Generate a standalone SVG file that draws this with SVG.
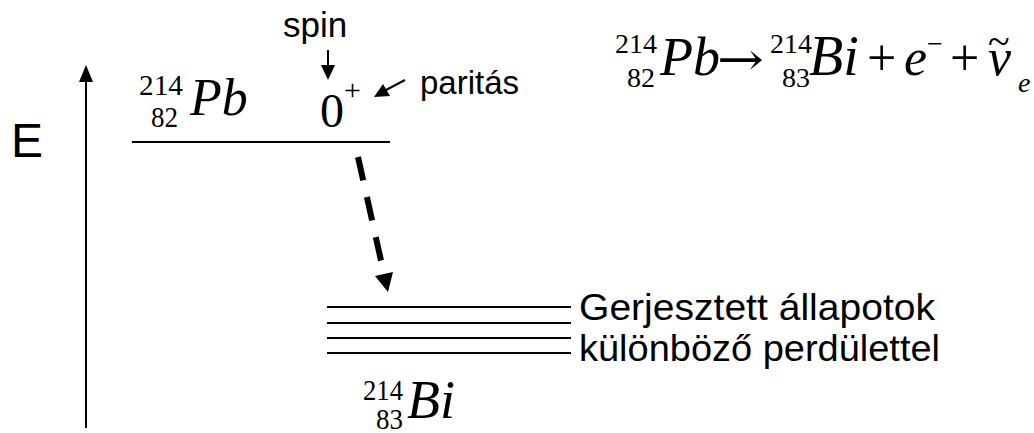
<svg xmlns="http://www.w3.org/2000/svg" width="1034" height="433" viewBox="0 0 1034 433">
<style>
.ar{font-family:"Liberation Sans",Arial,sans-serif;fill:#000}
.tm{font-family:"Liberation Serif","Times New Roman",serif;fill:#000}
.it{font-style:italic}
.ln{stroke:#000;stroke-width:2;fill:none}
</style>
<rect width="1034" height="433" fill="#fff"/>
<g id="axis">
<line class="ln" x1="86" y1="428" x2="86" y2="80"/>
<polygon points="86,65 79,82 93,82" fill="#000"/>
<text class="ar" x="11" y="157" font-size="48">E</text>
</g>
<g id="pb-level">
<line class="ln" x1="132" y1="142" x2="390" y2="142"/>
<text class="tm" x="139" y="95" font-size="29" textLength="44" lengthAdjust="spacingAndGlyphs">214</text>
<text class="tm" x="151" y="127" font-size="29" textLength="27" lengthAdjust="spacingAndGlyphs">82</text>
<text class="tm it" x="190" y="115" font-size="52">Pb</text>
<text class="tm" x="320" y="127" font-size="48">0</text>
<text class="tm" x="344" y="100" font-size="30">+</text>
</g>
<g id="spin">
<text class="ar" x="283" y="37" font-size="35">spin</text>
</g>
<g id="paritas">
<text class="ar" x="420" y="94" font-size="33">paritás</text>
</g>
<g id="bi-levels">
<line class="ln" x1="327" y1="307" x2="571" y2="307"/>
<line class="ln" x1="327" y1="323" x2="571" y2="323"/>
<line class="ln" x1="327" y1="338" x2="571" y2="338"/>
<line class="ln" x1="327" y1="353" x2="571" y2="353"/>
<text class="tm" x="363" y="400" font-size="29" textLength="40" lengthAdjust="spacingAndGlyphs">214</text>
<text class="tm" x="376" y="429" font-size="29" textLength="27" lengthAdjust="spacingAndGlyphs">83</text>
<text class="tm it" x="407" y="418" font-size="54">Bi</text>
</g>
<g id="labels">
<text class="ar" x="579" y="320" font-size="36" textLength="356" lengthAdjust="spacingAndGlyphs">Gerjesztett állapotok</text>
<text class="ar" x="579" y="361" font-size="36" textLength="361" lengthAdjust="spacingAndGlyphs">különböző perdülettel</text>
</g>
<g id="equation">
<text class="tm" x="615" y="53" font-size="28" textLength="42" lengthAdjust="spacingAndGlyphs">214</text>
<text class="tm" x="627" y="87" font-size="28" textLength="28" lengthAdjust="spacingAndGlyphs">82</text>
<text class="tm it" x="660" y="75" font-size="54">Pb</text>
<text x="717" y="75" font-size="46" font-family="DejaVu Serif, serif" textLength="47" lengthAdjust="spacingAndGlyphs">→</text>
<text class="tm" x="770" y="53" font-size="28" textLength="42" lengthAdjust="spacingAndGlyphs">214</text>
<text class="tm" x="782" y="87" font-size="28" textLength="28" lengthAdjust="spacingAndGlyphs">83</text>
<text class="tm it" x="809" y="75" font-size="56">Bi</text>
<text class="tm" x="867" y="75" font-size="52">+</text>
<text class="tm it" x="904" y="75" font-size="52">e</text>
<text class="tm" x="927" y="53" font-size="28">−</text>
<text class="tm" x="950" y="75" font-size="52">+</text>
<text class="tm it" x="988" y="75" font-size="52">ν<tspan dx="-23" dy="-20" font-style="normal" font-size="40">~</tspan></text>
<text class="tm it" x="1018" y="92" font-size="28">e</text>
</g>
<g id="connectors">
<line class="ln" x1="328" y1="50" x2="328" y2="67"/>
<polygon points="328,80 321,65 335,65" fill="#000"/>
<line class="ln" x1="405" y1="80" x2="386" y2="90"/>
<polygon points="374,97 383,84 390,96" fill="#000"/>
<line x1="358" y1="157" x2="384" y2="274" stroke="#000" stroke-width="6" stroke-dasharray="24 17"/>
<polygon points="388,292 375,276 393,272" fill="#000"/>
</g>
</svg>
